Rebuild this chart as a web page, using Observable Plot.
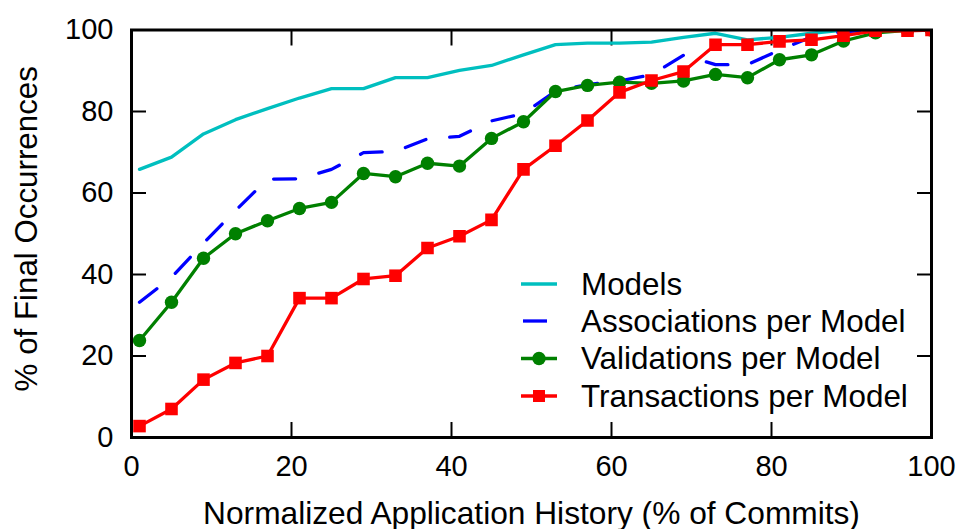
<!DOCTYPE html>
<html><head><meta charset="utf-8">
<script src="https://cdn.jsdelivr.net/npm/d3@7"></script>
<script src="https://cdn.jsdelivr.net/npm/@observablehq/plot@0.6"></script>
<style>
body{margin:0;background:#fff;}
#wrap{position:relative;width:958px;height:529px;font-family:"Liberation Sans",Arial,sans-serif;}
#legend{position:absolute;left:0;top:0;}
</style></head><body><div id="wrap"></div>
<script>
// Data
const commits = [1,5,9,13,17,21,25,29,33,37,41,45,49,53,57,61,65,69,73,77,81,85,89,93,97,100];
const models = [65.8,68.8,74.5,78.0,80.7,83.3,85.6,85.6,88.3,88.3,90.1,91.3,93.9,96.4,96.8,96.8,97.0,98.2,99.2,97.6,98.2,99.2,100,100,100,100];
const associations = [33.2,39.3,47.7,55.7,63.4,63.5,65.8,69.9,70.2,73.3,73.9,77.7,79.5,85.0,86.6,87.5,89.0,93.8,91.5,91.5,95.1,98.3,99.6,100,100,100];
const validations = [23.8,33.2,44.0,50.0,53.2,56.2,57.7,64.8,64.0,67.3,66.6,73.4,77.5,84.9,86.4,87.2,86.9,87.5,89.1,88.3,92.7,93.9,97.3,99.3,99.9,100];
const transactions = [2.8,7.0,14.2,18.3,20.0,34.2,34.2,38.9,39.7,46.5,49.4,53.4,65.8,71.6,77.8,84.7,87.6,89.8,96.4,96.4,97.2,97.6,98.6,99.8,99.8,100];
const seriesNames = ["Models","Associations per Model","Validations per Model","Transactions per Model"];
const xTicks = [0,20,40,60,80,100];
const yTicks = [0,20,40,60,80,100];
const xTitle = "Normalized Application History (% of Commits)";
const yTitle = "% of Final Occurrences";

const colors = ["#00bfbf","#0000ff","#008000","#ff0000"];
const toRows = vals => commits.map((c,i) => ({x: c, y: vals[i]}));
const mRows = toRows(models), aRows = toRows(associations), vRows = toRows(validations), tRows = toRows(transactions);
const lw = 3.3;

const chart = Plot.plot({
  width: 958, height: 529,
  marginLeft: 131, marginRight: 27, marginTop: 29.5, marginBottom: 92,
  style: {fontFamily: "'Liberation Sans', Arial, sans-serif", fontSize: "29px", color: "#000", background: "#fff", overflow: "visible"},
  x: {domain: [0,100]},
  y: {domain: [0,100]},
  marks: [
    Plot.axisX(xTicks, {anchor: "bottom", tickSize: -15, tickPadding: 33, strokeWidth: 2, label: null}),
    Plot.axisX(xTicks, {anchor: "top", tickSize: -15, tickFormat: () => "", strokeWidth: 2, label: null}),
    Plot.axisY(yTicks, {anchor: "left", tickSize: -15, tickPadding: 33, strokeWidth: 2, label: null}),
    Plot.axisY(yTicks, {anchor: "right", tickSize: -15, tickFormat: () => "", strokeWidth: 2, label: null}),
    Plot.line(mRows, {x: "x", y: "y", stroke: colors[0], strokeWidth: lw, clip: true}),
    Plot.line(aRows, {x: "x", y: "y", stroke: colors[1], strokeWidth: lw, strokeDasharray: "22,24", clip: true}),
    Plot.line(vRows, {x: "x", y: "y", stroke: colors[2], strokeWidth: lw, clip: true}),
    Plot.dot(vRows, {x: "x", y: "y", r: 6.7, fill: colors[2], stroke: null, clip: true}),
    Plot.line(tRows, {x: "x", y: "y", stroke: colors[3], strokeWidth: lw, clip: true}),
    Plot.dot(tRows, {x: "x", y: "y", r: 7.1, symbol: "square", fill: colors[3], stroke: null, clip: true}),
    Plot.frame({stroke: "#000", strokeWidth: 3}),
    Plot.text([xTitle], {frameAnchor: "bottom", dy: 76, fontSize: 31.7, textAnchor: "middle", lineAnchor: "middle"}),
    Plot.text([yTitle], {frameAnchor: "left", dx: -105, dy: -5, rotate: -90, fontSize: 31.3, textAnchor: "middle", lineAnchor: "middle"})
  ]
});
const wrap = document.getElementById("wrap");
wrap.appendChild(chart);

// Legend (inside plot area)
const leg = d3.select(wrap).append("svg").attr("id","legend").attr("width",958).attr("height",529)
  .style("font-family","'Liberation Sans', Arial, sans-serif");
const rowY = [284, 321, 358.5, 396];
seriesNames.forEach((name, i) => {
  const g = leg.append("g");
  const y = rowY[i];
  const line = g.append("line").attr("x1", i===1 ? 523 : 521).attr("x2", 557).attr("y1", y).attr("y2", y)
    .attr("stroke", colors[i]).attr("stroke-width", lw);
  if (i===1) line.attr("stroke-dasharray","24,24");
  if (i===2) g.append("circle").attr("cx",539).attr("cy",y).attr("r",6.7).attr("fill",colors[i]);
  if (i===3) g.append("rect").attr("x",533).attr("y",y-6).attr("width",12).attr("height",12).attr("fill",colors[i]);
  g.append("text").attr("x",581).attr("y",y).attr("dy","0.35em").attr("font-size",31.4).attr("fill","#000").text(name);
});
</script>
</body></html>
